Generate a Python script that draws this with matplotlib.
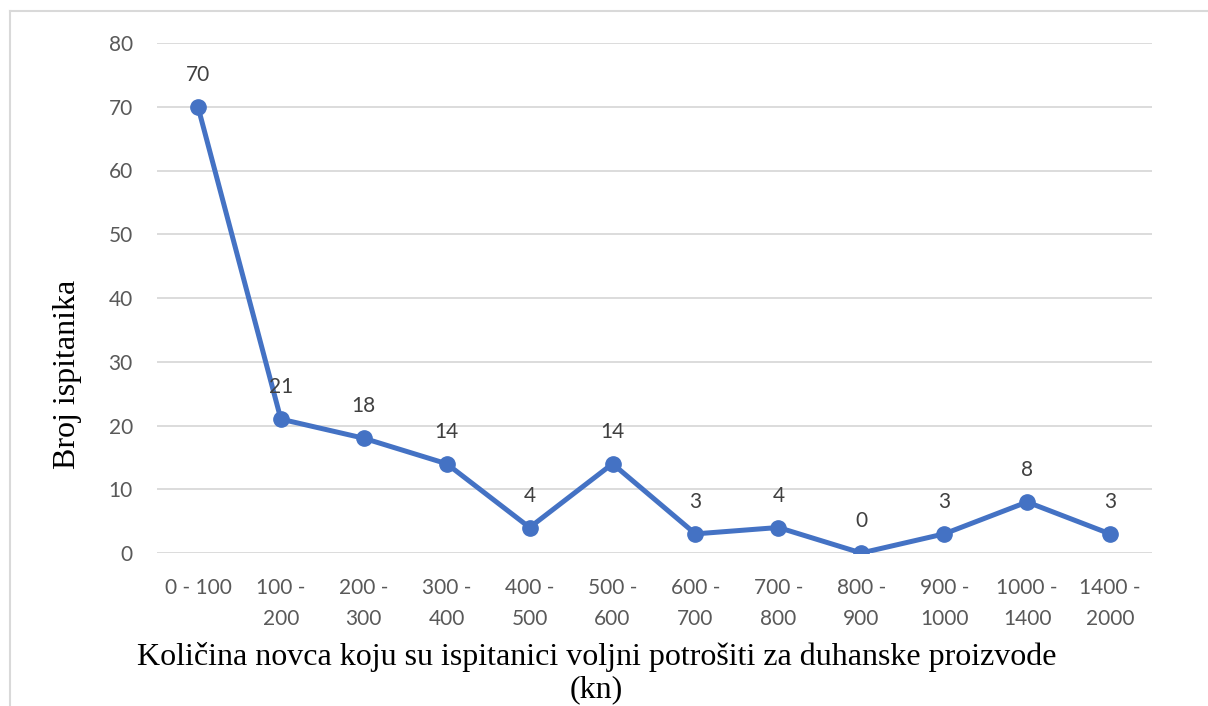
import matplotlib
matplotlib.use("Agg")
import matplotlib.pyplot as plt
from matplotlib.lines import Line2D

categories = ["0 - 100", "100 -\n200", "200 -\n300", "300 -\n400", "400 -\n500", "500 -\n600",
              "600 -\n700", "700 -\n800", "800 -\n900", "900 -\n1000", "1000 -\n1400", "1400 -\n2000"]
values = [70, 21, 18, 14, 4, 14, 3, 4, 0, 3, 8, 3]
yticks = [0, 10, 20, 30, 40, 50, 60, 70, 80]

W, H = 1208, 706
fig = plt.figure(figsize=(W / 100, H / 100), dpi=100)
ax = fig.add_axes([156.5 / W, 1 - 553 / H, (1151.5 - 156.5) / W, (553 - 43) / H])

sans = ["Lato", "DejaVu Sans"]
serif = ["Liberation Serif", "DejaVu Serif"]
blue = "#4472C4"

x = list(range(len(values)))
ax.plot(x, values, color=blue, lw=3.6, marker="o", markersize=11, zorder=3,
        solid_capstyle="round", solid_joinstyle="round")
for xi, v in zip(x, values):
    ax.annotate(str(v), (xi, v), xytext=(0, 23), textcoords="offset points",
                ha="center", va="center", fontsize=15, color="#404040", family=sans)

ax.set_xlim(-0.5, len(values) - 0.5)
ax.set_ylim(0, 80)
ax.set_yticks(yticks)
ax.set_yticklabels([str(t) for t in yticks], fontsize=15, color="#595959", family=sans)
ax.set_xticks(x)
ax.set_xticklabels(categories, fontsize=15, color="#595959", family=sans, linespacing=1.7, va="top")
ax.tick_params(axis="both", length=0)
ax.tick_params(axis="y", pad=17)
ax.tick_params(axis="x", pad=18)
ax.grid(axis="y", color="#D9D9D9", lw=1.3)
ax.set_axisbelow(True)
for s in ax.spines.values():
    s.set_visible(False)

fig.text(68 / W, 1 - 374 / H, "Broj ispitanika", rotation=90, ha="center", va="center",
         fontsize=23, family=serif, color="black")
fig.text(596.5 / W, 1 - 665 / H, "Količina novca koju su ispitanici voljni potrošiti za duhanske proizvode",
         ha="center", va="baseline", fontsize=23, family=serif, color="black")
fig.text(596.5 / W, 1 - 697 / H, "(kn)",
         ha="center", va="baseline", fontsize=23, family=serif, color="black")

fig.add_artist(Line2D([9.5 / W, 9.5 / W], [0, 1 - 11 / H], color="#D9D9D9", lw=1.5))
fig.add_artist(Line2D([9.5 / W, 1], [1 - 11 / H, 1 - 11 / H], color="#D9D9D9", lw=1.5))

fig.savefig("out.png", dpi=100, facecolor="white")
